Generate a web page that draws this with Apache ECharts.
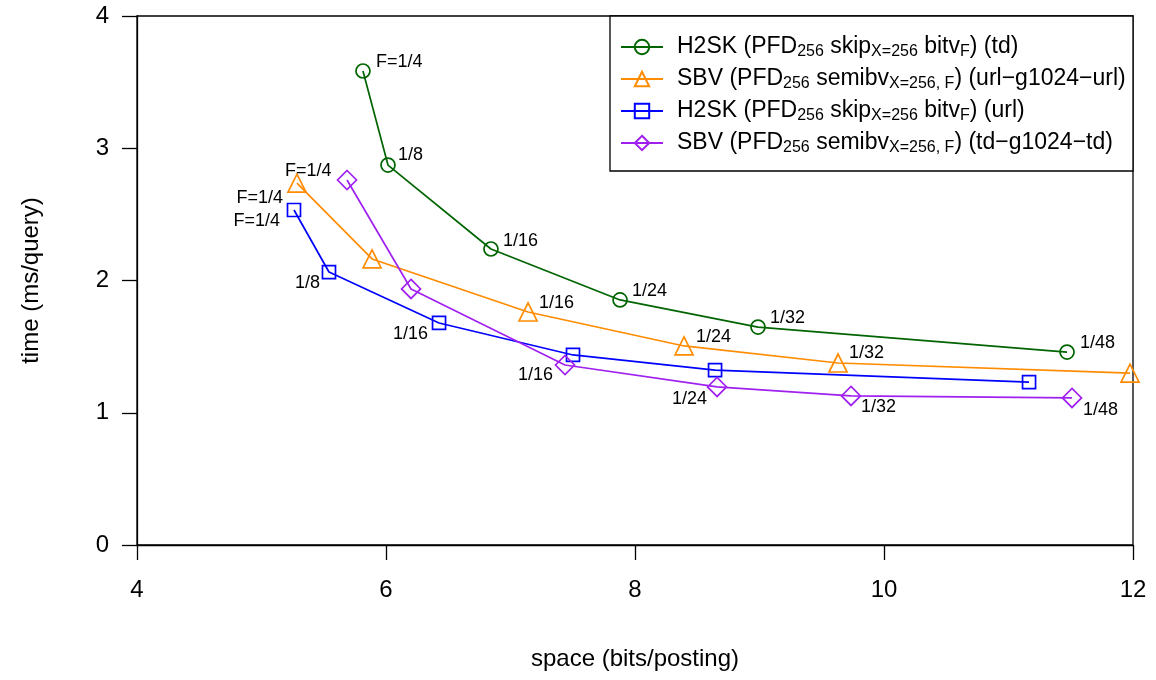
<!DOCTYPE html>
<html>
<head>
<meta charset="utf-8">
<script src="https://cdn.jsdelivr.net/npm/echarts@6/dist/echarts.min.js"></script>
<style>
  html, body { margin: 0; padding: 0; background: #fff; }
  #chart { width: 1156px; height: 680px; }
</style>
</head>
<body>
<div id="chart"></div>
<script>
// space (bits/posting) vs time (ms/query), one point per sampling fraction F
const fractions = ['F=1/4', '1/8', '1/16', '1/24', '1/32', '1/48'];

const h2skTd  = [[5.815, 3.584], [6.016, 2.873], [6.843, 2.238], [7.880, 1.853], [8.988, 1.648], [11.470, 1.459]];
const sbvUrl  = [[5.285, 2.737], [5.888, 2.163], [7.141, 1.762], [8.394, 1.505], [9.631, 1.376], [11.976, 1.300]];
const h2skUrl = [[5.261, 2.533], [5.542, 2.064], [6.426, 1.679], [7.502, 1.437], [8.643, 1.323], [11.165, 1.232]];
const sbvTd   = [[5.687, 2.760], [6.201, 1.936], [7.438, 1.361], [8.659, 1.195], [9.735, 1.127], [11.510, 1.112]];

const xTicks = [4, 6, 8, 10, 12];
const yTicks = [0, 1, 2, 3, 4];

const seriesNames = [
  'H2SK (PFD256 skipX=256 bitvF) (td)',
  'SBV (PFD256 semibvX=256, F) (url-g1024-url)',
  'H2SK (PFD256 skipX=256 bitvF) (url)',
  'SBV (PFD256 semibvX=256, F) (td-g1024-td)'
];
const legendRich = {
  [seriesNames[0]]: '{t|H2SK (PFD}{s|256}{t| skip}{s|X=256}{t| bitv}{s|F}{t|) (td)}',
  [seriesNames[1]]: '{t|SBV (PFD}{s|256}{t| semibv}{s|X=256, F}{t|) (url\u2212g1024\u2212url)}',
  [seriesNames[2]]: '{t|H2SK (PFD}{s|256}{t| skip}{s|X=256}{t| bitv}{s|F}{t|) (url)}',
  [seriesNames[3]]: '{t|SBV (PFD}{s|256}{t| semibv}{s|X=256, F}{t|) (td\u2212g1024\u2212td)}'
};

const FONT = '"Liberation Sans", Arial, Helvetica, sans-serif';

// label placement per point: [text alignment, dx, dy] relative to the marker centre
const placeGreen  = [['left', 13, -9], ['left', 10, -10], ['left', 12, -8], ['left', 12, -9], ['left', 12, -9], ['left', 13, -9]];
const placeOrange = [['left', -12, -12], null, ['left', 11, -9], ['left', 12, -9], ['left', 11, -10], null];
const placeBlue   = [['right', -11, -12], ['right', -9, 11], ['right', -11, 11], null, null, null];
const placePurple = [['right', -67, 41], null, ['right', -12, 10], ['right', -10, 12], ['left', 10, 11], ['left', 11, 12]];

function makeSeries(name, points, color, symbol, size, place) {
  return {
    name: name,
    type: 'line',
    symbol: symbol,
    symbolSize: size,
    showAllSymbol: true,
    clip: false,
    lineStyle: { color: color, width: 1.7 },
    itemStyle: { color: 'rgba(0,0,0,0)', borderColor: color, borderWidth: 1.7 },
    emphasis: { disabled: true },
    data: points.map((p, i) => {
      const pl = place[i];
      return {
        value: p,
        label: pl ? {
          show: true,
          formatter: fractions[i],
          position: 'inside',
          align: pl[0],
          verticalAlign: 'middle',
          offset: [pl[1], pl[2]],
          color: '#000',
          fontSize: 18,
          fontFamily: FONT,
          textBorderWidth: 0
        } : { show: false }
      };
    })
  };
}

const chart = echarts.init(document.getElementById('chart'), null, { renderer: 'canvas' });

chart.setOption({
  animation: false,
  backgroundColor: '#fff',
  textStyle: { fontFamily: FONT },
  grid: {
    left: 137, right: 23, top: 16, bottom: 135,
    show: true, borderColor: '#000', borderWidth: 1.3, backgroundColor: 'rgba(0,0,0,0)'
  },
  xAxis: {
    type: 'value',
    min: xTicks[0], max: xTicks[xTicks.length - 1], interval: xTicks[1] - xTicks[0],
    name: 'space (bits/posting)',
    nameLocation: 'middle',
    nameGap: 102,
    nameTextStyle: { fontSize: 24, color: '#000', fontFamily: FONT },
    axisLine: { show: true, onZero: false, lineStyle: { color: '#000', width: 1.3 } },
    axisTick: { show: true, inside: false, length: 15, lineStyle: { color: '#000', width: 1.3 } },
    axisLabel: { margin: 33, fontSize: 24, color: '#000', fontFamily: FONT },
    splitLine: { show: false }
  },
  yAxis: {
    type: 'value',
    min: yTicks[0], max: yTicks[yTicks.length - 1], interval: yTicks[1] - yTicks[0],
    name: 'time (ms/query)',
    nameLocation: 'middle',
    nameGap: 94,
    nameTextStyle: { fontSize: 24, color: '#000', fontFamily: FONT },
    axisLine: { show: true, onZero: false, lineStyle: { color: '#000', width: 1.3 } },
    axisTick: { show: true, inside: false, length: 15, lineStyle: { color: '#000', width: 1.3 } },
    axisLabel: { margin: 28, fontSize: 24, color: '#000', fontFamily: FONT },
    splitLine: { show: false }
  },
  graphic: [{
    type: 'rect',
    z: 3,
    shape: { x: 610, y: 16, width: 523, height: 155 },
    style: { fill: '#fff', stroke: '#000', lineWidth: 1.3 }
  }],
  legend: {
    orient: 'vertical',
    left: 615,
    top: 29,
    itemWidth: 42,
    itemHeight: 18,
    itemGap: 6,
    selectedMode: false,
    z: 5,
    data: seriesNames,
    formatter: (n) => legendRich[n],
    textStyle: {
      padding: [0, 0, 0, 9],
      rich: {
        t: { fontSize: 23, fontFamily: FONT, color: '#000', lineHeight: 26 },
        s: { fontSize: 16, fontFamily: FONT, color: '#000', lineHeight: 26, padding: [10, 0, 0, 0] }
      }
    }
  },
  series: [
    makeSeries(seriesNames[0], h2skTd, '#006400', 'circle', 14, placeGreen),
    makeSeries(seriesNames[1], sbvUrl, '#FF8C00', 'triangle', 18, placeOrange),
    makeSeries(seriesNames[2], h2skUrl, '#0000FF', 'rect', 13, placeBlue),
    makeSeries(seriesNames[3], sbvTd, '#A020F0', 'diamond', 19, placePurple)
  ]
});
</script>
</body>
</html>
